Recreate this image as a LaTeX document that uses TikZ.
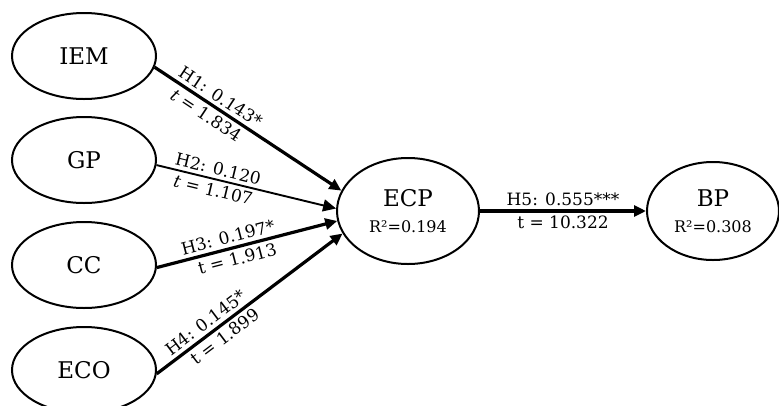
\documentclass[tikz,border=0pt]{standalone}
\usepackage{fontspec}
\setmainfont{DejaVu Serif}
\usetikzlibrary{arrows.meta,shapes.geometric}
\begin{document}
\begin{tikzpicture}[x=1pt,y=-1pt,
  latent/.style={ellipse,draw,line width=2pt,inner sep=0pt,font=\fontsize{23}{25}\selectfont},
  small/.style={ellipse,draw,line width=2pt,inner sep=0pt,align=center,font=\fontsize{16}{26}\selectfont},
  path/.style={line width=3.2pt,-{Triangle[length=12pt,width=11pt]}},
  paththin/.style={line width=1.9pt,-{Triangle[length=13pt,width=12pt]}},
  lab/.style={font=\fontsize{17}{19}\selectfont,sloped,inner sep=3.5pt}]
\useasboundingbox (0,0) rectangle (779,405);
\node[latent,minimum width=144pt,minimum height=86pt] (IEM) at (84,56) {IEM};
\node[latent,minimum width=144pt,minimum height=86pt] (GP) at (84,160) {GP};
\node[latent,minimum width=144pt,minimum height=86pt] (CC) at (84,265) {CC};
\node[latent,minimum width=144pt,minimum height=86pt] (ECO) at (84,370) {ECO};
\node[small,minimum width=142pt,minimum height=106pt] (ECP) at (408,211)
  {{\fontsize{23}{26}\selectfont ECP}\\R²=0.194};
\node[small,minimum width=132pt,minimum height=98pt] (BP) at (713,211)
  {{\fontsize{23}{26}\selectfont BP}\\R²=0.308};
\draw[path] (IEM.-9) -- (ECP.163)
  node[lab,above,pos=0.32] {H1: 0.143*}
  node[lab,below,pos=0.31] {\textit{t} = 1.834};
\draw[paththin] (GP.-4) -- (ECP.178)
  node[lab,above,pos=0.33] {H2: 0.120}
  node[lab,below,pos=0.33] {\textit{t} = 1.107};
\draw[path] (CC.-2) -- (ECP.188)
  node[lab,above,pos=0.41] {H3: 0.197*}
  node[lab,below,pos=0.43] {t = 1.913};
\draw[path] (ECO.-3) -- (ECP.199)
  node[lab,above,pos=0.30] {H4: 0.145*}
  node[lab,below,pos=0.33] {t = 1.899};
\draw[path] (ECP.east) -- (BP.west)
  node[lab,above,midway] {H5: 0.555***}
  node[lab,below,midway] {t = 10.322};
\end{tikzpicture}
\end{document}
